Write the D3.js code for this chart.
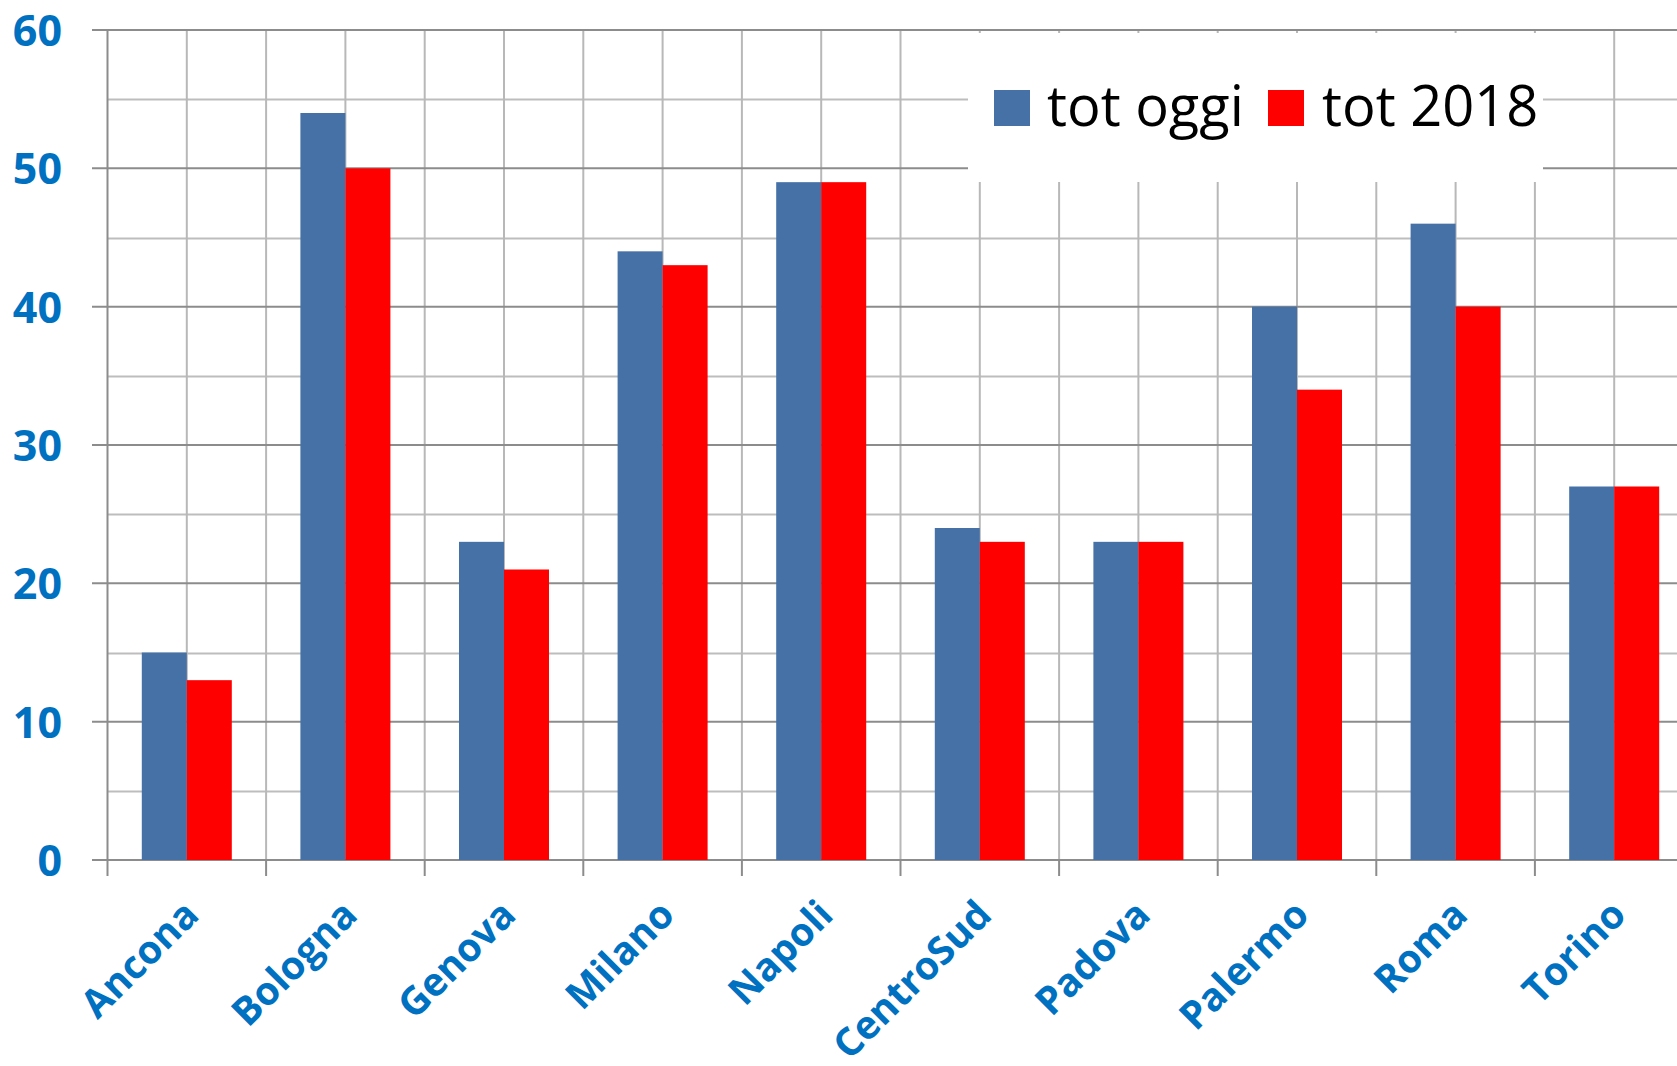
<!DOCTYPE html>
<html>
<head>
<meta charset="utf-8">
<script src="https://cdn.jsdelivr.net/npm/d3@7"></script>
<style>
  body { margin: 0; background: #fff; }
  svg { display: block; }
  .ylab text, .xlab text { font-family: "Open Sans", sans-serif; font-weight: bold; fill: #0070c0; }
  .legend text { font-family: "Open Sans", sans-serif; fill: #000; }
</style>
</head>
<body>
<svg id="chart"></svg>
<script>
const categories = ["Ancona", "Bologna", "Genova", "Milano", "Napoli", "CentroSud", "Padova", "Palermo", "Roma", "Torino"];
const totOggi = [15, 54, 23, 44, 49, 24, 23, 40, 46, 27];
const tot2018 = [13, 50, 21, 43, 49, 23, 23, 34, 40, 27];
const seriesNames = ["tot oggi", "tot 2018"];
const seriesColors = ["#4571a6", "#ff0000"];
const yTicks = [0, 10, 20, 30, 40, 50, 60];
const yMinor = [5, 15, 25, 35, 45, 55];

const chart = () => {
  const w = 1677;
  const h = 1066;
  const left = 107.5;
  const top = 30;
  const bottom = 860;
  const step = 158.6;

  const svg = d3.select("#chart").attr("width", w).attr("height", h);

  const x = d3
    .scaleBand()
    .domain(categories)
    .range([left, left + step * categories.length])
    .paddingInner(0)
    .paddingOuter(0);

  const xInner = d3
    .scaleBand()
    .domain(seriesNames)
    .range([0, x.bandwidth()])
    .paddingInner(0)
    .paddingOuter(0.762);

  const y = d3.scaleLinear().domain([0, 60]).range([bottom, top]);

  // minor horizontal grid
  svg
    .append("g")
    .selectAll("line")
    .data(yMinor)
    .enter()
    .append("line")
    .attr("x1", left)
    .attr("x2", w)
    .attr("y1", (d) => Math.round(y(d)) + 0.5)
    .attr("y2", (d) => Math.round(y(d)) + 0.5)
    .attr("stroke", "#bdbdbd")
    .attr("stroke-width", 2);

  // vertical grid: boundaries and centers
  const vLines = [];
  categories.forEach((c) => {
    vLines.push(x(c));
    vLines.push(x(c) + x.bandwidth() / 2);
  });
  svg
    .append("g")
    .selectAll("line")
    .data(vLines.slice(1))
    .enter()
    .append("line")
    .attr("x1", (d) => d)
    .attr("x2", (d) => d)
    .attr("y1", top)
    .attr("y2", bottom)
    .attr("stroke", "#b8b8b8")
    .attr("stroke-width", 2);

  // major horizontal grid + y ticks
  svg
    .append("g")
    .selectAll("line")
    .data(yTicks)
    .enter()
    .append("line")
    .attr("x1", left - 15.5)
    .attr("x2", w)
    .attr("y1", (d) => y(d))
    .attr("y2", (d) => y(d))
    .attr("stroke", "#8c8c8c")
    .attr("stroke-width", 2);

  // legend background hides the grid
  svg
    .append("rect")
    .attr("x", 968)
    .attr("y", 33)
    .attr("width", 575)
    .attr("height", 149)
    .attr("fill", "#fff");

  // bars
  const groups = svg
    .append("g")
    .selectAll("g")
    .data(categories)
    .enter()
    .append("g")
    .attr("transform", (c) => "translate(" + x(c) + ",0)");

  groups
    .selectAll("rect")
    .data((c, i) => [
      { key: seriesNames[0], value: totOggi[i] },
      { key: seriesNames[1], value: tot2018[i] },
    ])
    .enter()
    .append("rect")
    .attr("x", (d) => xInner(d.key))
    .attr("width", xInner.bandwidth())
    .attr("y", (d) => y(d.value))
    .attr("height", (d) => y(0) - y(d.value))
    .attr("fill", (d, i) => seriesColors[i]);

  // y axis line
  svg
    .append("line")
    .attr("x1", left)
    .attr("x2", left)
    .attr("y1", top)
    .attr("y2", bottom + 16)
    .attr("stroke", "#8c8c8c")
    .attr("stroke-width", 2);

  // x axis ticks at category boundaries
  svg
    .append("g")
    .selectAll("line")
    .data(categories.slice(1))
    .enter()
    .append("line")
    .attr("x1", (c) => x(c))
    .attr("x2", (c) => x(c))
    .attr("y1", bottom)
    .attr("y2", bottom + 16)
    .attr("stroke", "#8c8c8c")
    .attr("stroke-width", 2);

  // y labels
  const yAxis = d3.axisLeft(y).tickValues(yTicks).tickSize(0).tickPadding(45.5);
  svg
    .append("g")
    .attr("class", "ylab")
    .attr("transform", "translate(" + left + ",0)")
    .call(yAxis)
    .call((g) => g.select(".domain").remove())
    .selectAll("text")
    .attr("font-size", 43)
    .attr("dy", "0.36em")
    .attr("fill", null);

  // x labels
  const xAxis = d3.axisBottom(x).tickSize(0).tickPadding(0);
  svg
    .append("g")
    .attr("class", "xlab")
    .attr("transform", "translate(0," + bottom + ")")
    .call(xAxis)
    .call((g) => g.select(".domain").remove())
    .selectAll("text")
    .attr("font-size", 39)
    .attr("fill", null)
    .attr("y", 0)
    .attr("dy", 0)
    .attr("text-anchor", "end")
    .attr("transform", "translate(14,57) rotate(-45)");

  // legend
  const legend = svg.append("g").attr("class", "legend");
  const legendX = [994, 1268];
  const legendTextX = [1047, 1322];
  seriesNames.forEach((name, i) => {
    legend
      .append("rect")
      .attr("x", legendX[i])
      .attr("y", 90)
      .attr("width", 36)
      .attr("height", 36)
      .attr("fill", seriesColors[i]);
    legend
      .append("text")
      .attr("x", legendTextX[i])
      .attr("y", 126)
      .attr("font-size", 56)
      .text(name);
  });
};

chart();
</script>
</body>
</html>
